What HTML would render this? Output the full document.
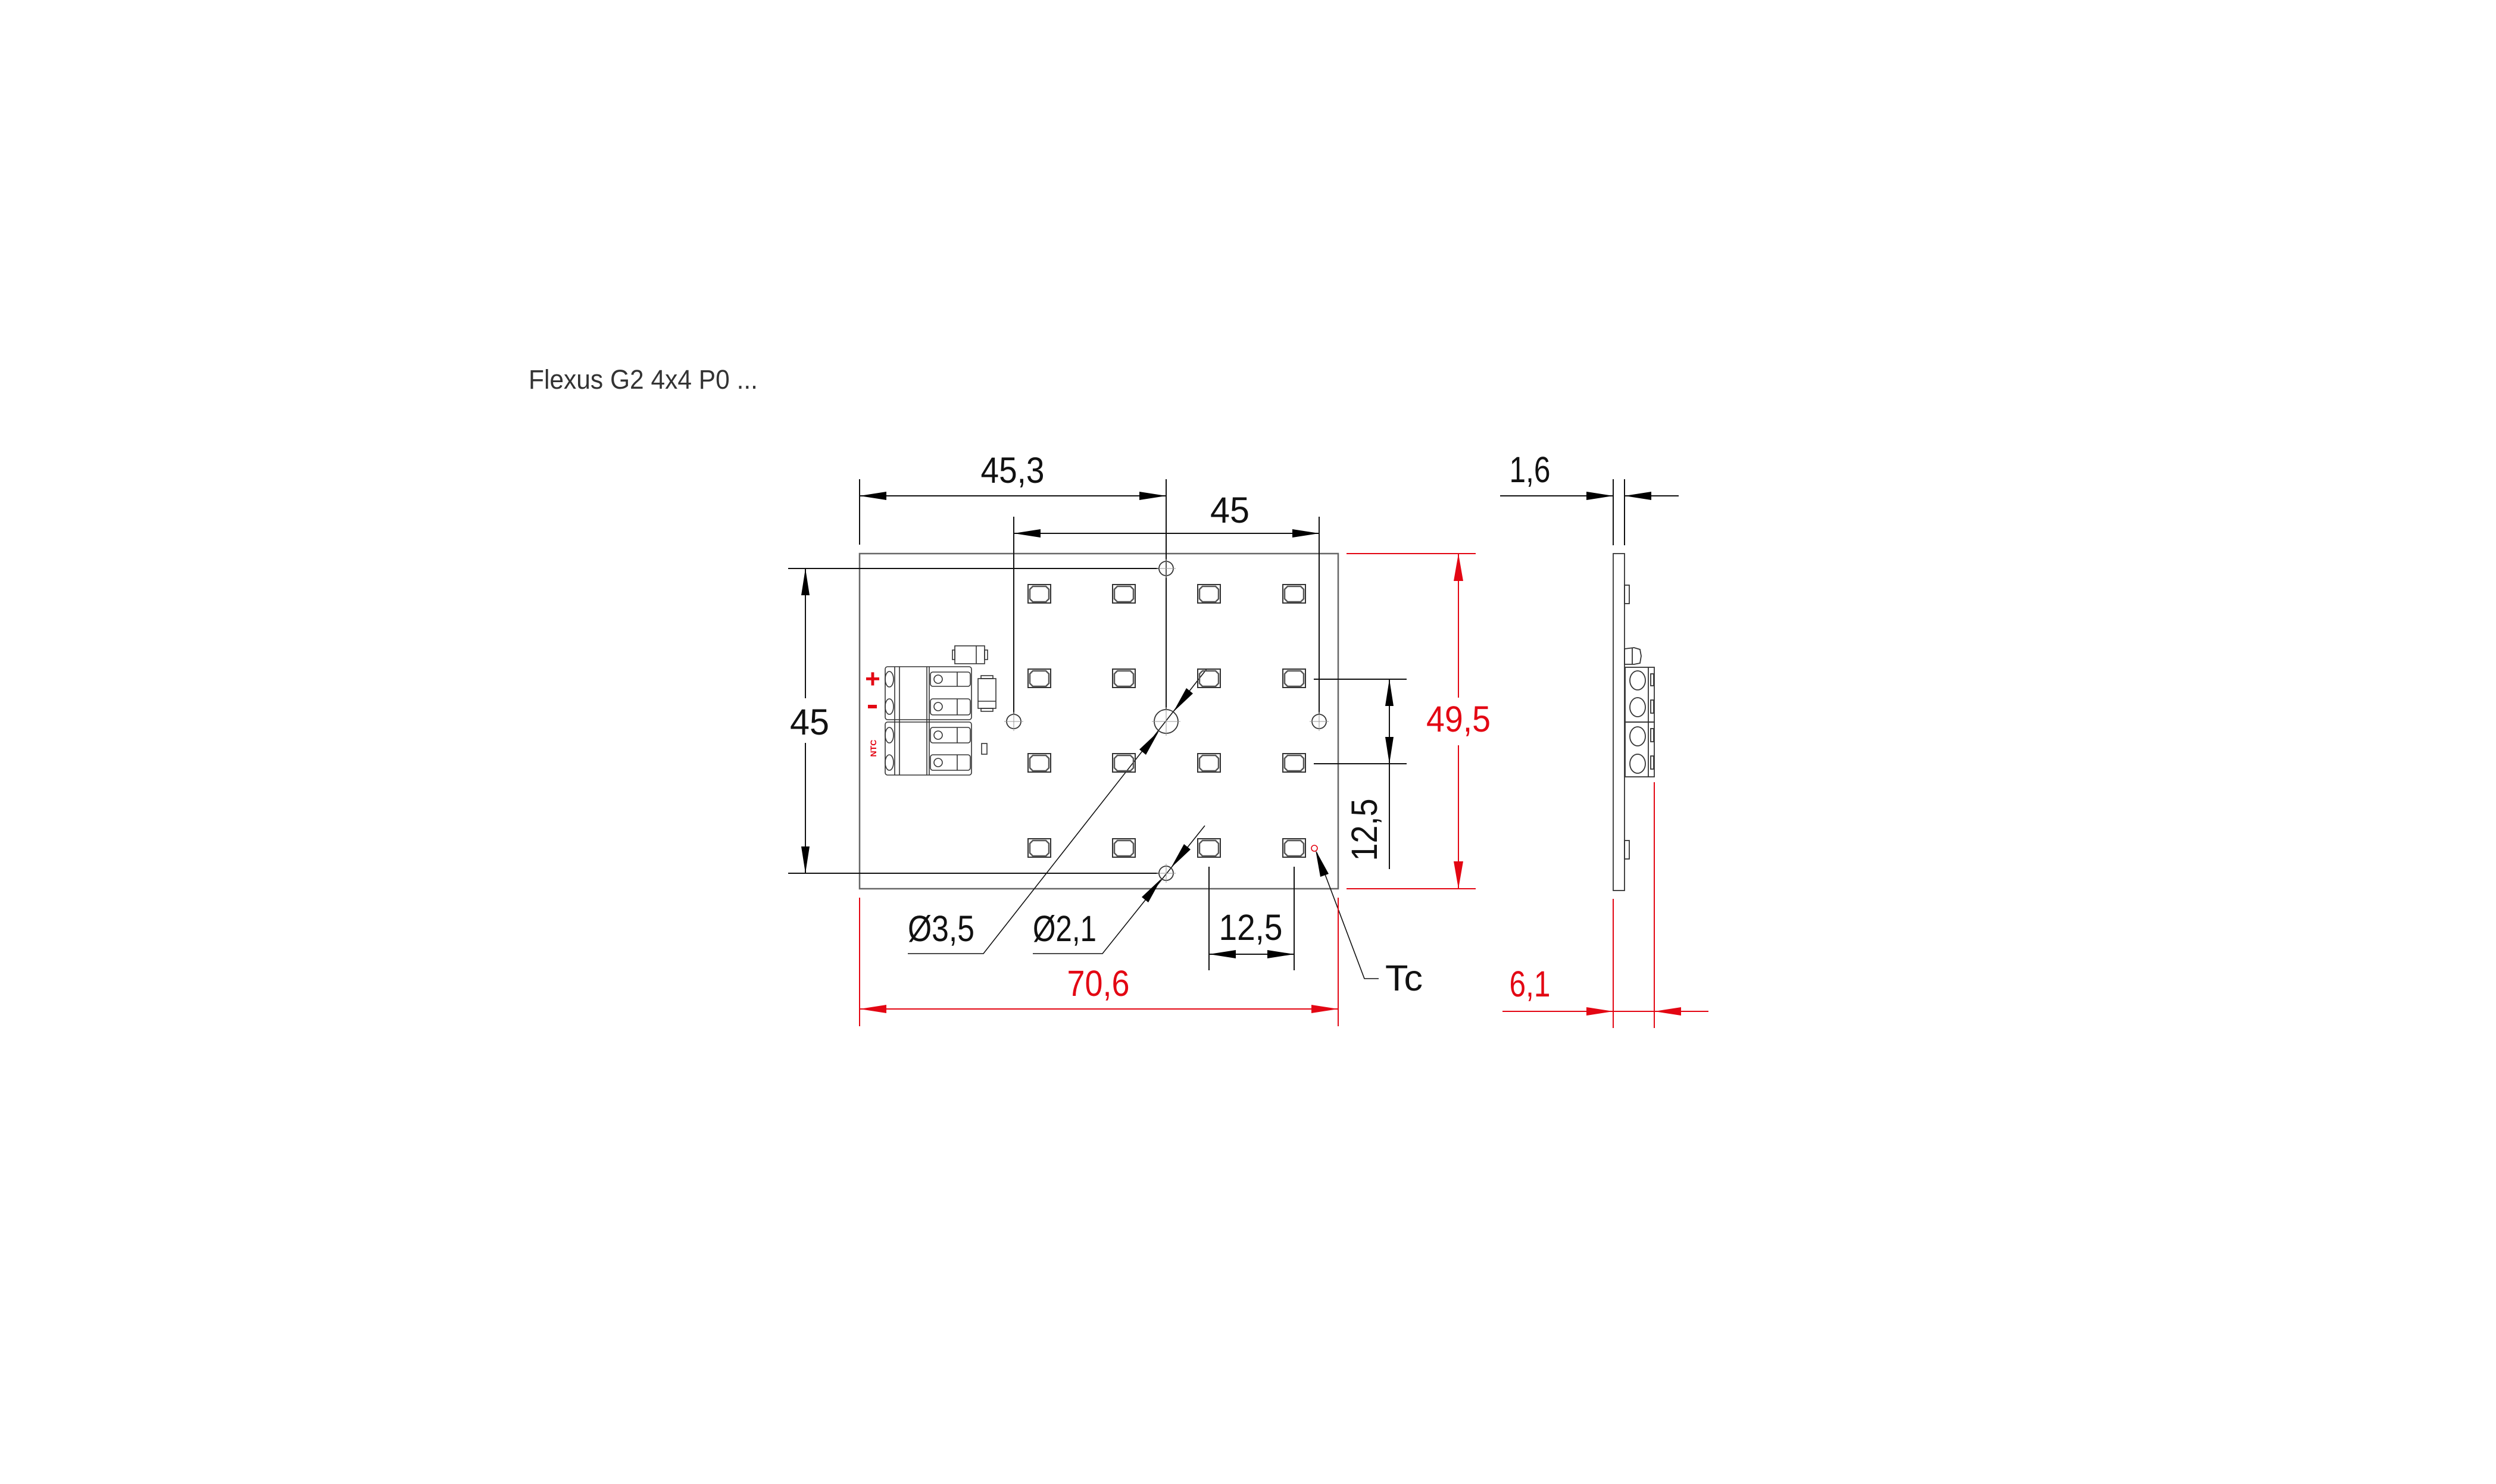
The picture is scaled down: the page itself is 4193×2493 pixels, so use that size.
<!DOCTYPE html>
<html><head><meta charset="utf-8"><style>
html,body{margin:0;padding:0;background:#fff}
svg{display:block}
text{font-family:"Liberation Sans",sans-serif}
</style></head><body>
<svg width="4193" height="2493" viewBox="0 0 4193 2493" xmlns="http://www.w3.org/2000/svg">
<rect width="4193" height="2493" fill="#fff"/>
<text x="888" y="653" font-size="45" fill="#333" textLength="385" lengthAdjust="spacingAndGlyphs">Flexus G2 4x4 P0 ...</text>

<!-- board -->
<rect x="1444" y="930" width="804" height="563" fill="none" stroke="#666" stroke-width="2.5"/>

<g stroke="#111" stroke-width="2" fill="none">
<!-- 45,3 -->
<line x1="1444" y1="805" x2="1444" y2="915"/>
<line x1="1444" y1="833" x2="1959" y2="833"/>
<line x1="1959" y1="805" x2="1959" y2="1192"/>
<!-- 45 top -->
<line x1="1703" y1="868" x2="1703" y2="1200"/>
<line x1="2216" y1="868" x2="2216" y2="1200"/>
<line x1="1703" y1="896" x2="2216" y2="896"/>
<!-- hole ext -->
<line x1="1324" y1="955" x2="1947" y2="955"/>
<line x1="1324" y1="1467" x2="1947" y2="1467"/>
<!-- 45 vertical -->
<line x1="1353" y1="955" x2="1353" y2="1173"/>
<line x1="1353" y1="1248" x2="1353" y2="1467"/>
<!-- leaders -->
<polyline points="1525,1602 1652,1602 2027,1124" stroke-width="1.6"/>
<polyline points="1735,1602 1852,1602 2024,1387" stroke-width="1.6"/>
<!-- 12,5 horizontal -->
<line x1="2031" y1="1456" x2="2031" y2="1630"/>
<line x1="2174" y1="1456" x2="2174" y2="1630"/>
<line x1="2031" y1="1603" x2="2174" y2="1603"/>
<!-- 12,5 vertical -->
<line x1="2207" y1="1141" x2="2363" y2="1141"/>
<line x1="2207" y1="1283" x2="2363" y2="1283"/>
<line x1="2334" y1="1141" x2="2334" y2="1460"/>
<!-- Tc -->
<polyline points="2212,1432 2292,1644 2316,1644" stroke-width="1.6"/>
<!-- 1,6 side -->
<line x1="2710" y1="805" x2="2710" y2="916"/>
<line x1="2729" y1="805" x2="2729" y2="916"/>
<line x1="2520" y1="833" x2="2710" y2="833"/>
<line x1="2729" y1="833" x2="2820" y2="833"/>
</g>

<!-- holes -->
<g stroke="#333" stroke-width="1.8" fill="none">
<circle cx="1959" cy="955" r="12"/>
<circle cx="1959" cy="1212" r="20"/>
<circle cx="1703" cy="1212" r="12"/>
<circle cx="2216" cy="1212" r="12"/>
<circle cx="1959" cy="1467" r="12"/>
</g>
<g stroke="#999" stroke-width="1">
<line x1="1943" y1="955" x2="1975" y2="955"/><line x1="1959" y1="939" x2="1959" y2="971"/>
<line x1="1935" y1="1212" x2="1983" y2="1212"/><line x1="1959" y1="1188" x2="1959" y2="1236"/>
<line x1="1687" y1="1212" x2="1719" y2="1212"/><line x1="1703" y1="1196" x2="1703" y2="1228"/>
<line x1="2200" y1="1212" x2="2232" y2="1212"/><line x1="2216" y1="1196" x2="2216" y2="1228"/>
<line x1="1943" y1="1467" x2="1975" y2="1467"/><line x1="1959" y1="1451" x2="1959" y2="1483"/>
</g>

<!-- LEDs -->
<defs>
<g id="led">
<rect x="-19" y="-16" width="38" height="31" fill="none" stroke="#333" stroke-width="2"/>
<polygon points="-11,-13 11,-13 16,-8 16,8 11,13 -11,13 -16,8 -16,-8" fill="none" stroke="#555" stroke-width="2.5"/>
</g>
</defs>
<g>
<use href="#led" x="1746" y="998"/><use href="#led" x="1888" y="998"/><use href="#led" x="2031" y="998"/><use href="#led" x="2174" y="998"/>
<use href="#led" x="1746" y="1140"/><use href="#led" x="1888" y="1140"/><use href="#led" x="2031" y="1140"/><use href="#led" x="2174" y="1140"/>
<use href="#led" x="1746" y="1282"/><use href="#led" x="1888" y="1282"/><use href="#led" x="2031" y="1282"/><use href="#led" x="2174" y="1282"/>
<use href="#led" x="1746" y="1425"/><use href="#led" x="1888" y="1425"/><use href="#led" x="2031" y="1425"/><use href="#led" x="2174" y="1425"/>
</g>

<!-- connector -->
<g stroke="#333" stroke-width="1.6" fill="none">
<rect x="1487" y="1120" width="145" height="89" rx="4"/>
<rect x="1487" y="1213" width="145" height="89" rx="4"/>
<line x1="1503" y1="1120" x2="1503" y2="1302"/>
<line x1="1511" y1="1120" x2="1511" y2="1302"/>
<line x1="1557" y1="1120" x2="1557" y2="1302"/>
<line x1="1561" y1="1120" x2="1561" y2="1302"/>
<ellipse cx="1494" cy="1141" rx="7" ry="13"/><ellipse cx="1494" cy="1187" rx="7" ry="13"/>
<ellipse cx="1494" cy="1235" rx="7" ry="13"/><ellipse cx="1494" cy="1281" rx="7" ry="13"/>
<rect x="1563" y="1129" width="67" height="24" rx="4"/>
<rect x="1563" y="1174" width="67" height="27" rx="4"/>
<rect x="1563" y="1222" width="67" height="26" rx="4"/>
<rect x="1563" y="1268" width="67" height="26" rx="4"/>
<circle cx="1576" cy="1141" r="7"/><circle cx="1576" cy="1187" r="7"/>
<circle cx="1576" cy="1235" r="7"/><circle cx="1576" cy="1281" r="7"/>
<line x1="1608" y1="1129" x2="1608" y2="1153"/><line x1="1608" y1="1174" x2="1608" y2="1201"/>
<line x1="1608" y1="1222" x2="1608" y2="1248"/><line x1="1608" y1="1268" x2="1608" y2="1294"/>
<rect x="1604" y="1085" width="50" height="30"/>
<rect x="1600" y="1092" width="4" height="16"/><rect x="1654" y="1092" width="5" height="16"/>
<line x1="1640" y1="1085" x2="1640" y2="1115"/>
<rect x="1643" y="1140" width="30" height="50"/>
<rect x="1648" y="1135" width="20" height="5"/><rect x="1648" y="1190" width="20" height="5"/>
<line x1="1643" y1="1178" x2="1673" y2="1178"/>
<rect x="1649" y="1249" width="9" height="18"/>
</g>
<text x="1466" y="1155" font-size="44" font-weight="bold" fill="#e30613" text-anchor="middle">+</text>
<rect x="1458" y="1184" width="15" height="6" fill="#e30613"/>
<text x="0" y="0" font-size="14" font-weight="bold" fill="#e30613" text-anchor="middle" transform="translate(1472,1257) rotate(-90)">NTC</text>

<!-- black arrows -->
<g fill="#000">
<polygon points="1444,833 1489,826 1489,840"/>
<polygon points="1959,833 1914,826 1914,840"/>
<polygon points="1703,896 1748,889 1748,903"/>
<polygon points="2216,896 2171,889 2171,903"/>
<polygon points="1353,955 1346,1000 1360,1000"/>
<polygon points="1353,1467 1346,1422 1360,1422"/>
<polygon points="2031,1603 2076,1596 2076,1610"/>
<polygon points="2174,1603 2129,1596 2129,1610"/>
<polygon points="2334,1141 2327,1186 2341,1186"/>
<polygon points="2334,1283 2327,1238 2341,1238"/>
<!-- Ø3,5 arrows -->
<polygon points="1947,1228 1914,1259 1925,1268"/>
<polygon points="1971,1196 2004,1165 1993,1156"/>
<!-- Ø2,1 arrows -->
<polygon points="1951,1476 1918,1507 1929,1516"/>
<polygon points="1967,1458 2000,1427 1989,1418"/>
<!-- Tc arrow -->
<polygon points="2210,1428 2218,1473 2232,1468"/>
<!-- 1,6 -->
<polygon points="2710,833 2665,826 2665,840"/>
<polygon points="2729,833 2774,826 2774,840"/>
</g>

<!-- red dims -->
<g stroke="#e30613" stroke-width="2" fill="none">
<line x1="1444" y1="1508" x2="1444" y2="1724"/>
<line x1="2248" y1="1508" x2="2248" y2="1724"/>
<line x1="1444" y1="1695" x2="2248" y2="1695"/>
<line x1="2262" y1="930" x2="2479" y2="930"/>
<line x1="2262" y1="1493" x2="2479" y2="1493"/>
<line x1="2450" y1="930" x2="2450" y2="1172"/>
<line x1="2450" y1="1252" x2="2450" y2="1493"/>
<line x1="2710" y1="1510" x2="2710" y2="1727"/>
<line x1="2779" y1="1314" x2="2779" y2="1727"/>
<line x1="2524" y1="1699" x2="2870" y2="1699"/>
<circle cx="2208" cy="1425" r="5" stroke-width="1.6"/>
</g>
<g fill="#e30613">
<polygon points="1444,1695 1489,1688 1489,1702"/>
<polygon points="2248,1695 2203,1688 2203,1702"/>
<polygon points="2450,930 2442,976 2458,976"/>
<polygon points="2450,1493 2442,1447 2458,1447"/>
<polygon points="2710,1699 2665,1692 2665,1706"/>
<polygon points="2779,1699 2824,1692 2824,1706"/>
</g>

<!-- side view -->
<g stroke="#333" stroke-width="1.8" fill="none">
<rect x="2710" y="930" width="19" height="566"/>
<rect x="2729" y="983" width="8" height="31"/>
<rect x="2729" y="1412" width="8" height="31"/>
<path d="M2729,1090 L2745,1088 L2755,1091 L2757,1102 L2755,1114 L2745,1116 L2729,1116 Z"/>
<line x1="2742" y1="1088" x2="2742" y2="1116"/>
<rect x="2730" y="1121" width="49" height="92"/>
<rect x="2730" y="1213" width="49" height="92"/>
<line x1="2769" y1="1121" x2="2769" y2="1305"/>
<ellipse cx="2751" cy="1143" rx="13" ry="16"/>
<ellipse cx="2751" cy="1188" rx="13" ry="16"/>
<ellipse cx="2751" cy="1237" rx="13" ry="16"/>
<ellipse cx="2751" cy="1283" rx="13" ry="16"/>
<rect x="2773" y="1132" width="5" height="20"/><rect x="2773" y="1176" width="5" height="22"/>
<rect x="2773" y="1224" width="5" height="22"/><rect x="2773" y="1270" width="5" height="22"/>
</g>

<!-- labels -->
<g font-size="61" fill="#111">
<text x="1701" y="811" text-anchor="middle" textLength="107" lengthAdjust="spacingAndGlyphs">45,3</text>
<text x="2066" y="878" text-anchor="middle" textLength="66" lengthAdjust="spacingAndGlyphs">45</text>
<text x="1360" y="1234" text-anchor="middle" textLength="66" lengthAdjust="spacingAndGlyphs">45</text>
<text x="1525" y="1581" textLength="112" lengthAdjust="spacingAndGlyphs">Ø3,5</text>
<text x="1735" y="1581" textLength="107" lengthAdjust="spacingAndGlyphs">Ø2,1</text>
<text x="2101" y="1579" text-anchor="middle" textLength="107" lengthAdjust="spacingAndGlyphs">12,5</text>
<text x="0" y="0" text-anchor="middle" textLength="105" lengthAdjust="spacingAndGlyphs" transform="translate(2313,1394) rotate(-90)">12,5</text>
<text x="2327" y="1664" textLength="63" lengthAdjust="spacingAndGlyphs">Tc</text>
<text x="2570" y="810" text-anchor="middle" textLength="69" lengthAdjust="spacingAndGlyphs">1,6</text>
</g>
<g font-size="61" fill="#e30613">
<text x="1845" y="1673" text-anchor="middle" textLength="105" lengthAdjust="spacingAndGlyphs">70,6</text>
<text x="2450" y="1229" text-anchor="middle" textLength="108" lengthAdjust="spacingAndGlyphs">49,5</text>
<text x="2570" y="1674" text-anchor="middle" textLength="69" lengthAdjust="spacingAndGlyphs">6,1</text>
</g>
</svg>
</body></html>
